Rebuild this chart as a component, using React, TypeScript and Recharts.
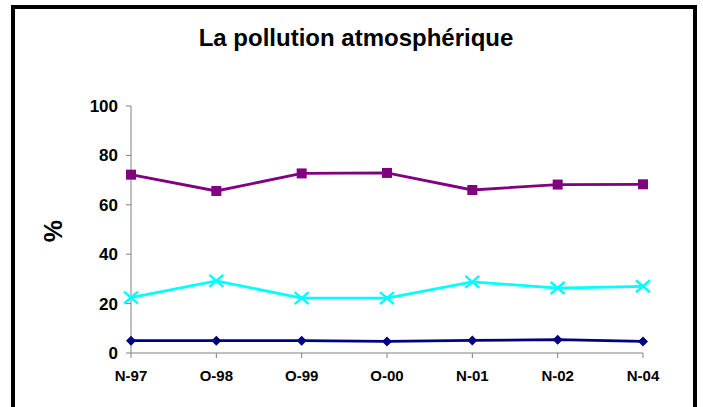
import React from "react";
import { LineChart, Line, XAxis, YAxis } from "recharts";

const categories = ["N-97", "O-98", "O-99", "O-00", "N-01", "N-02", "N-04"];
const purpleValues = [72.2, 65.6, 72.7, 72.9, 66.0, 68.2, 68.3];
const cyanValues = [22.4, 29.2, 22.2, 22.2, 28.8, 26.3, 27.0];
const navyValues = [5.0, 5.0, 5.0, 4.7, 5.1, 5.4, 4.7];
const yTicks = [0, 20, 40, 60, 80, 100];

const data = categories.map((c, i) => ({
  name: c,
  a: purpleValues[i],
  b: cyanValues[i],
  c: navyValues[i],
}));

const SquareDot = (props: any) => {
  const { cx, cy } = props;
  if (cx == null || cy == null) return null;
  return <rect x={cx - 5} y={cy - 5} width={10} height={10} fill="#800080" />;
};

const CrossDot = (props: any) => {
  const { cx, cy } = props;
  if (cx == null || cy == null) return null;
  return (
    <g stroke="#00ffff" strokeWidth={2.5}>
      <line x1={cx - 7} y1={cy - 6} x2={cx + 7} y2={cy + 6} />
      <line x1={cx - 7} y1={cy + 6} x2={cx + 7} y2={cy - 6} />
    </g>
  );
};

const DiamondDot = (props: any) => {
  const { cx, cy } = props;
  if (cx == null || cy == null) return null;
  return (
    <polygon
      points={`${cx},${cy - 5} ${cx + 5},${cy} ${cx},${cy + 5} ${cx - 5},${cy}`}
      fill="#000080"
    />
  );
};

const FONT = "Liberation Sans, Arial, sans-serif";

export default function App() {
  return (
    <div style={{ position: "absolute", left: 0, top: 0, width: 703, height: 407, background: "#fff", overflow: "hidden" }}>
      <div
        style={{
          position: "absolute",
          left: 11,
          top: 5,
          width: 686,
          height: 440,
          border: "4px solid #000",
          boxSizing: "border-box",
        }}
      />
      <div style={{ position: "absolute", left: 0, top: 0 }}>
        <LineChart width={703} height={407} data={data} margin={{ top: 106, right: 60, bottom: 14, left: 71 }}>
          <XAxis
            dataKey="name"
            height={40}
            stroke="#808080"
            tickSize={5}
            tickMargin={12}
            tick={{ fill: "#000", fontSize: 15, fontWeight: "bold", fontFamily: FONT }}
          />
          <YAxis
            width={60}
            domain={[0, 100]}
            ticks={yTicks}
            stroke="#808080"
            tickSize={5}
            tickMargin={8}
            tick={{ fill: "#000", fontSize: 17, fontWeight: "bold", fontFamily: FONT }}
          />
          <Line dataKey="a" stroke="#800080" strokeWidth={2.8} dot={<SquareDot />} isAnimationActive={false} />
          <Line dataKey="b" stroke="#00ffff" strokeWidth={2.8} dot={<CrossDot />} isAnimationActive={false} />
          <Line dataKey="c" stroke="#000080" strokeWidth={2.8} dot={<DiamondDot />} isAnimationActive={false} />
        </LineChart>
      </div>
      <svg width={703} height={407} style={{ position: "absolute", left: 0, top: 0, pointerEvents: "none" }}>
        <text
          x={356}
          y={46}
          textAnchor="middle"
          fontFamily={FONT}
          fontWeight="bold"
          fontSize={24}
          fill="#000"
        >
          La pollution atmosphérique
        </text>
        <text
          x={53}
          y={231}
          textAnchor="middle"
          dominantBaseline="central"
          transform="rotate(-90 53 231)"
          fontFamily={FONT}
          fontWeight="bold"
          fontSize={25}
          fill="#000"
        >
          %
        </text>
      </svg>
    </div>
  );
}
